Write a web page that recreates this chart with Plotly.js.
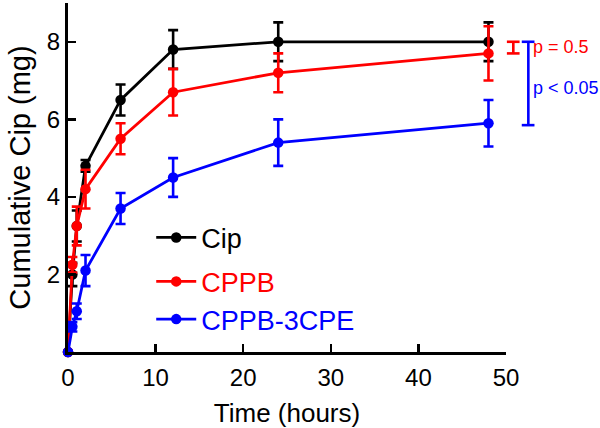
<!DOCTYPE html>
<html>
<head>
<meta charset="utf-8">
<script src="https://cdn.plot.ly/plotly-3.0.1.min.js"></script>
<style>html,body{margin:0;padding:0;background:#fff;}#chart{width:600px;height:428px;}</style>
</head>
<body>
<div id="chart"></div>
<script>
// Data
var timeHours = [0, 0.5, 1, 2, 6, 12, 24, 48];
var cipMean   = [0, 2.0, 3.25, 4.8, 6.5, 7.8, 8.0, 8.0];
var cipErr    = [0, 0.3, 0.4, 0.15, 0.4, 0.5, 0.5, 0.5];
var cppbMean  = [0, 2.25, 3.25, 4.2, 5.5, 6.7, 7.2, 7.7];
var cppbErr   = [0, 0.2, 0.5, 0.5, 0.4, 0.6, 0.5, 0.7];
var cpeMean   = [0, 0.65, 1.05, 2.1, 3.7, 4.5, 5.4, 5.9];
var cpeErr    = [0, 0.12, 0.2, 0.4, 0.4, 0.5, 0.6, 0.6];
var seriesNames = ["Cip", "CPPB", "CPPB-3CPE"];
var xTickVals = [0, 10, 20, 30, 40, 50];
var yTickVals = [2, 4, 6, 8];
var pLabels = ["p = 0.5", "p < 0.05"];

var FONT = "Liberation Sans, Arial, sans-serif";
var colors = ["#000000", "#ff0000", "#0000ff"];
var means = [cipMean, cppbMean, cpeMean];
var errs = [cipErr, cppbErr, cpeErr];
var legendIds = ["legend", "legend2", "legend3"];

var traces = means.map(function (m, i) {
  return {
    type: "scatter",
    mode: "lines+markers",
    x: timeHours,
    y: m,
    name: seriesNames[i],
    legend: legendIds[i],
    line: {color: colors[i], width: 2.8},
    marker: {color: colors[i], size: 10.5},
    error_y: {type: "data", array: errs[i], visible: true, color: colors[i], thickness: 2.6, width: 5},
    cliponaxis: false
  };
});

var legendRowsY = [0.327, 0.201, 0.093];
function mkLegend(i) {
  return {
    x: 0.19, xanchor: "left", y: legendRowsY[i], yanchor: "middle",
    bgcolor: "rgba(0,0,0,0)", borderwidth: 0,
    font: {family: FONT, size: 27, color: colors[i]},
    itemwidth: 40, tracegroupgap: 0
  };
}

var last = timeHours.length - 1;
var shapes = [];
function bracket(xv, capL, capR, y0, y1, color) {
  shapes.push({type: "line", xref: "paper", yref: "y", x0: xv, x1: xv, y0: y0, y1: y1, line: {color: color, width: 2.6}});
  shapes.push({type: "line", xref: "paper", yref: "y", x0: capL, x1: capR, y0: y0, y1: y0, line: {color: color, width: 2.6}});
  shapes.push({type: "line", xref: "paper", yref: "y", x0: capL, x1: capR, y0: y1, y1: y1, line: {color: color, width: 2.6}});
}
bracket(1.0167, 1.002, 1.031, cipMean[last], cppbMean[last], "#ff0000");
bracket(1.051, 1.036, 1.065, cipMean[last], cpeMean[last] - 0.05, "#0000ff");

var annotations = [
  {xref: "paper", yref: "y", x: 1.058, xanchor: "left", y: (cipMean[last] + cppbMean[last]) / 2 + 0.02, yanchor: "middle",
   text: pLabels[0], showarrow: false, font: {family: FONT, size: 18, color: "#ff0000"}},
  {xref: "paper", yref: "y", x: 1.058, xanchor: "left", y: 6.8, yanchor: "middle",
   text: pLabels[1], showarrow: false, font: {family: FONT, size: 18, color: "#0000ff"}}
];

var layout = {
  width: 600, height: 428,
  margin: {l: 68, r: 94, t: 3, b: 76, pad: 0},
  paper_bgcolor: "#ffffff", plot_bgcolor: "#ffffff",
  font: {family: FONT, color: "#000"},
  showlegend: true,
  legend: mkLegend(0), legend2: mkLegend(1), legend3: mkLegend(2),
  xaxis: {
    range: [0, 50], tickvals: xTickVals, ticktext: xTickVals.map(String),
    ticks: "inside", ticklen: 8, tickwidth: 2.5, tickcolor: "#000",
    showline: true, linecolor: "#000", linewidth: 3, showgrid: false, zeroline: false,
    tickfont: {family: FONT, size: 24, color: "#000"}, ticklabelstandoff: 2,
    title: {text: "Time (hours)", font: {family: FONT, size: 26, color: "#000"}, standoff: 16}
  },
  yaxis: {
    range: [0, 9], tickvals: yTickVals, ticktext: yTickVals.map(String),
    ticks: "inside", ticklen: 8, tickwidth: 2.5, tickcolor: "#000",
    showline: true, linecolor: "#000", linewidth: 3, showgrid: false, zeroline: false,
    tickfont: {family: FONT, size: 24, color: "#000"},
    title: {text: "Cumulative Cip (mg)", font: {family: FONT, size: 29, color: "#000"}, standoff: 8}
  },
  shapes: shapes,
  annotations: annotations
};

Plotly.newPlot("chart", traces, layout, {staticPlot: true, displayModeBar: false});
</script>
</body>
</html>
